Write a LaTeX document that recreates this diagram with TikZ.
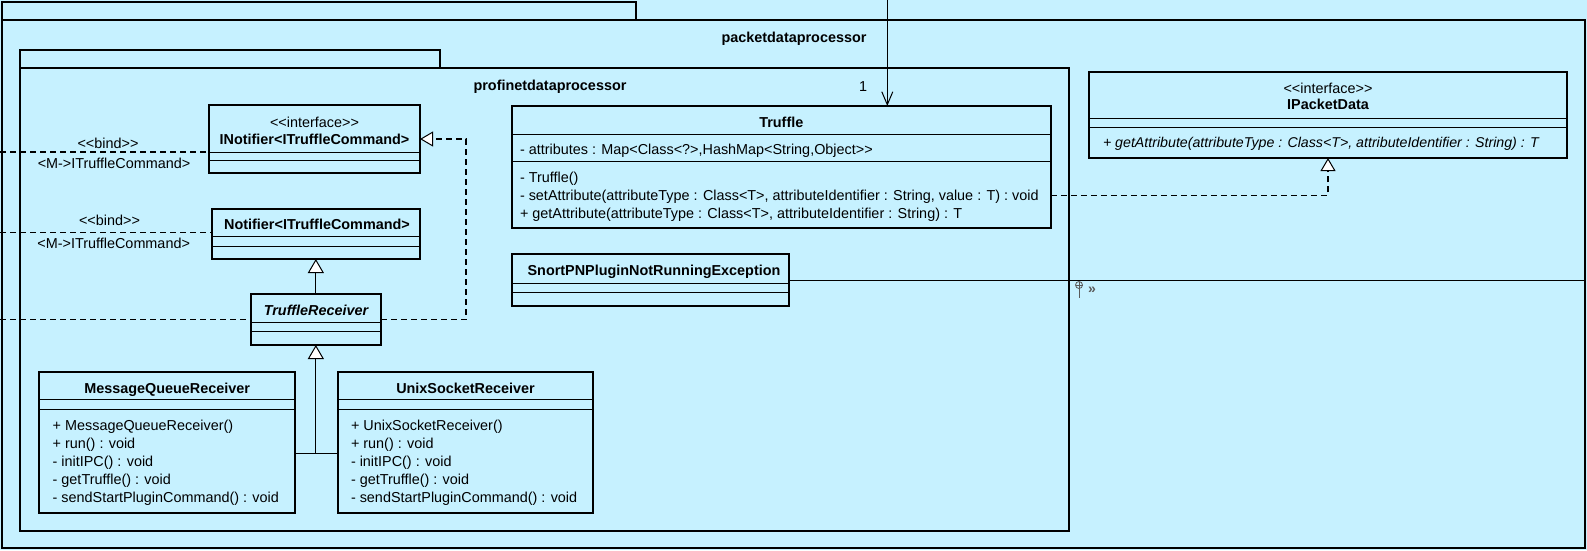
\documentclass[tikz,border=0pt]{standalone}
\usepackage{fontspec}
\newfontfamily\umlfont{Liberation Sans}
\usetikzlibrary{arrows.meta}
\definecolor{umlbg}{RGB}{198,241,255}
\definecolor{anchorgray}{RGB}{90,90,90}
\begin{document}
\begin{tikzpicture}[x=1pt,y=-1pt,
  every node/.style={font=\umlfont\fontsize{14.4}{17.8}\selectfont, inner sep=0pt, outer sep=0pt},
  pkgbox/.style={draw, line width=2pt, fill=umlbg},
  classbox/.style={draw, line width=2pt, fill=umlbg, rectangle, anchor=north west},
  sepline/.style={line width=1pt},
  conn/.style={line width=1pt},
  bindline/.style={line width=1.2pt, dash pattern=on 6pt off 4pt},
  realarrow/.style={line width=1.2pt, dash pattern=on 6pt off 4pt, -{Triangle[length=13pt,width=15pt,fill=white,line width=1pt]}},
  genarrow/.style={line width=1pt, -{Triangle[length=14pt,width=16pt,fill=white,line width=1pt]}},
  assoc/.style={line width=1pt, -{Straight Barb[length=13pt,width=11pt,line width=1pt]}},
  pkgtitle/.style={font=\umlfont\bfseries\fontsize{14.4}{17.8}\selectfont, anchor=base},
  cname/.style={font=\umlfont\bfseries\fontsize{14.4}{17.8}\selectfont, anchor=base},
  cnameit/.style={font=\umlfont\bfseries\itshape\fontsize{14.4}{17.8}\selectfont, anchor=base},
  stereo/.style={anchor=base},
  member/.style={anchor=base west},
  memberit/.style={font=\umlfont\itshape\fontsize{14.2}{17.8}\selectfont, anchor=base west},
  lbl/.style={anchor=base}
]
\useasboundingbox (0,0) rectangle (1587,550);
\fill[umlbg] (0,0) rectangle (1587,550);

% outer package
\draw[pkgbox] (1.7,1.7) rectangle (636,20);
\node[pkgbox, anchor=north west, minimum width=1583.3, minimum height=528] (outerpkg) at (1.7,20) {};
\node[pkgtitle] (outertitle) at (794,42.5) {packetdataprocessor};

% inner package
\draw[pkgbox] (20,50) rectangle (440,67.5);
\node[pkgbox, anchor=north west, minimum width=1049, minimum height=463.2] (innerpkg) at (20,67.5) {};
\node[pkgtitle] (innertitle) at (550,90) {profinetdataprocessor};

% INotifier
\node[classbox, minimum width=211, minimum height=68] (inot) at (209,105) {};
\draw[sepline] (inot.west |- 0,152) -- (inot.east |- 0,152);
\draw[sepline] (inot.west |- 0,160) -- (inot.east |- 0,160);
\node[stereo] (inotst) at (314.5,127) {<<interface>>};
\node[cname] (inotnm) at (314.5,144) {INotifier<ITruffleCommand>};

% Notifier
\node[classbox, minimum width=208, minimum height=50] (notif) at (212,209) {};
\draw[sepline] (notif.west |- 0,236.7) -- (notif.east |- 0,236.7);
\draw[sepline] (notif.west |- 0,246.7) -- (notif.east |- 0,246.7);
\node[cname] (notifnm) at (317,229) {Notifier<ITruffleCommand>};

% TruffleReceiver
\node[classbox, minimum width=130.3, minimum height=51] (trec) at (250.7,294) {};
\draw[sepline] (trec.west |- 0,322.7) -- (trec.east |- 0,322.7);
\draw[sepline] (trec.west |- 0,331.7) -- (trec.east |- 0,331.7);
\node[cnameit] (trecnm) at (316,315) {TruffleReceiver};

% MessageQueueReceiver
\node[classbox, minimum width=256.3, minimum height=141.3] (mqr) at (39,372) {};
\draw[sepline] (mqr.west |- 0,399.7) -- (mqr.east |- 0,399.7);
\draw[sepline] (mqr.west |- 0,409.3) -- (mqr.east |- 0,409.3);
\node[cname] (mqrnm) at (167.2,393.3) {MessageQueueReceiver};
\node[member] (mqrm1) at (52.7,430.7) {+ MessageQueueReceiver()};
\node[member] (mqrm2) at (52.7,448) {+ run() : void};
\node[member] (mqrm3) at (52.7,466) {- initIPC() : void};
\node[member] (mqrm4) at (52.7,484) {- getTruffle() : void};
\node[member] (mqrm5) at (52.7,502) {- sendStartPluginCommand() : void};

% UnixSocketReceiver
\node[classbox, minimum width=255.6, minimum height=141.3] (usr) at (337.7,372) {};
\draw[sepline] (usr.west |- 0,399.7) -- (usr.east |- 0,399.7);
\draw[sepline] (usr.west |- 0,409.3) -- (usr.east |- 0,409.3);
\node[cname] (usrnm) at (465.5,393.3) {UnixSocketReceiver};
\node[member] (usrm1) at (351,430.7) {+ UnixSocketReceiver()};
\node[member] (usrm2) at (351,448) {+ run() : void};
\node[member] (usrm3) at (351,466) {- initIPC() : void};
\node[member] (usrm4) at (351,484) {- getTruffle() : void};
\node[member] (usrm5) at (351,502) {- sendStartPluginCommand() : void};

% Truffle
\node[classbox, minimum width=539.5, minimum height=122] (truffle) at (511.5,106) {};
\draw[sepline] (truffle.west |- 0,134) -- (truffle.east |- 0,134);
\draw[sepline] (truffle.west |- 0,161) -- (truffle.east |- 0,161);
\node[cname] (trufnm) at (781.3,127) {Truffle};
\node[member] (trufa1) at (520,154) {- attributes : Map<Class<?>,HashMap<String,Object>>};
\node[member] (trufm1) at (520,182.3) {- Truffle()};
\node[member] (trufm2) at (520,200.3) {- setAttribute(attributeType : Class<T>, attributeIdentifier : String, value : T) : void};
\node[member] (trufm3) at (520,218.3) {+ getAttribute(attributeType : Class<T>, attributeIdentifier : String) : T};

% SnortPNPluginNotRunningException
\node[classbox, minimum width=277.5, minimum height=52] (snort) at (511.5,254) {};
\draw[sepline] (snort.west |- 0,283.5) -- (snort.east |- 0,283.5);
\draw[sepline] (snort.west |- 0,292.6) -- (snort.east |- 0,292.6);
\node[cname] (snortnm) at (654,275.3) {SnortPNPluginNotRunningException};

% IPacketData
\node[classbox, minimum width=478, minimum height=86.3] (ipd) at (1089,71.7) {};
\draw[sepline] (ipd.west |- 0,118.5) -- (ipd.east |- 0,118.5);
\draw[sepline] (ipd.west |- 0,127.6) -- (ipd.east |- 0,127.6);
\node[stereo] (ipdst) at (1328,93) {<<interface>>};
\node[cname] (ipdnm) at (1328,109.3) {IPacketData};
\node[memberit] (ipdm1) at (1103,147.8) {+ getAttribute(attributeType : Class<T>, attributeIdentifier : String) : T};

% association from above to Truffle
\coordinate (topfree) at (887.3,0);
\draw[assoc] (topfree) -- (topfree |- truffle.north);
\node[lbl] (mult) at (863,91) {1};

% realization Truffle -> IPacketData
\draw[realarrow] (truffle.east |- 0,195.3) -| (ipd.south);

% realization TruffleReceiver -> INotifier
\draw[realarrow] (trec.east) -- ++(85,0) |- (inot.east);

% generalizations
\draw[genarrow] (trec.north) -- (trec.north |- notif.south);
\coordinate (junction) at (trec.south |- 0,453.3);
\draw[conn] (mqr.east |- junction) -- (usr.west |- junction);
\draw[genarrow] (junction) -- (trec.south);

% bind dependencies
\coordinate (bindA) at (0,152);
\draw[bindline] (bindA) -- (inot.west |- bindA);
\node[lbl] (bindAt) at (108,148) {<<bind>>};
\node[lbl] (bindAb) at (114,168) {<M->ITruffleCommand>};
\coordinate (bindB) at (0,232.3);
\draw[bindline] (bindB) -- (notif.west |- bindB);
\node[lbl] (bindBt) at (109.5,225) {<<bind>>};
\node[lbl] (bindBb) at (113.7,248) {<M->ITruffleCommand>};
\coordinate (bindC) at (0,319.5);
\draw[bindline] (bindC) -- (trec.west |- bindC);

% Snort exception line to the right border
\coordinate (snortfree) at (outerpkg.east |- snort.east);
\draw[conn] (snort.east) -- (snortfree);
\draw[anchorgray, line width=0.8pt] (1079,285) circle (3.5);
\draw[anchorgray, line width=0.8pt] (1075.5,285) -- (1082.5,285) (1079,281.5) -- (1079,297.5);
\node[lbl, text=anchorgray, font=\umlfont\bfseries\fontsize{14}{14}\selectfont] (nestmark) at (1092,293) {»};
\end{tikzpicture}
\end{document}
